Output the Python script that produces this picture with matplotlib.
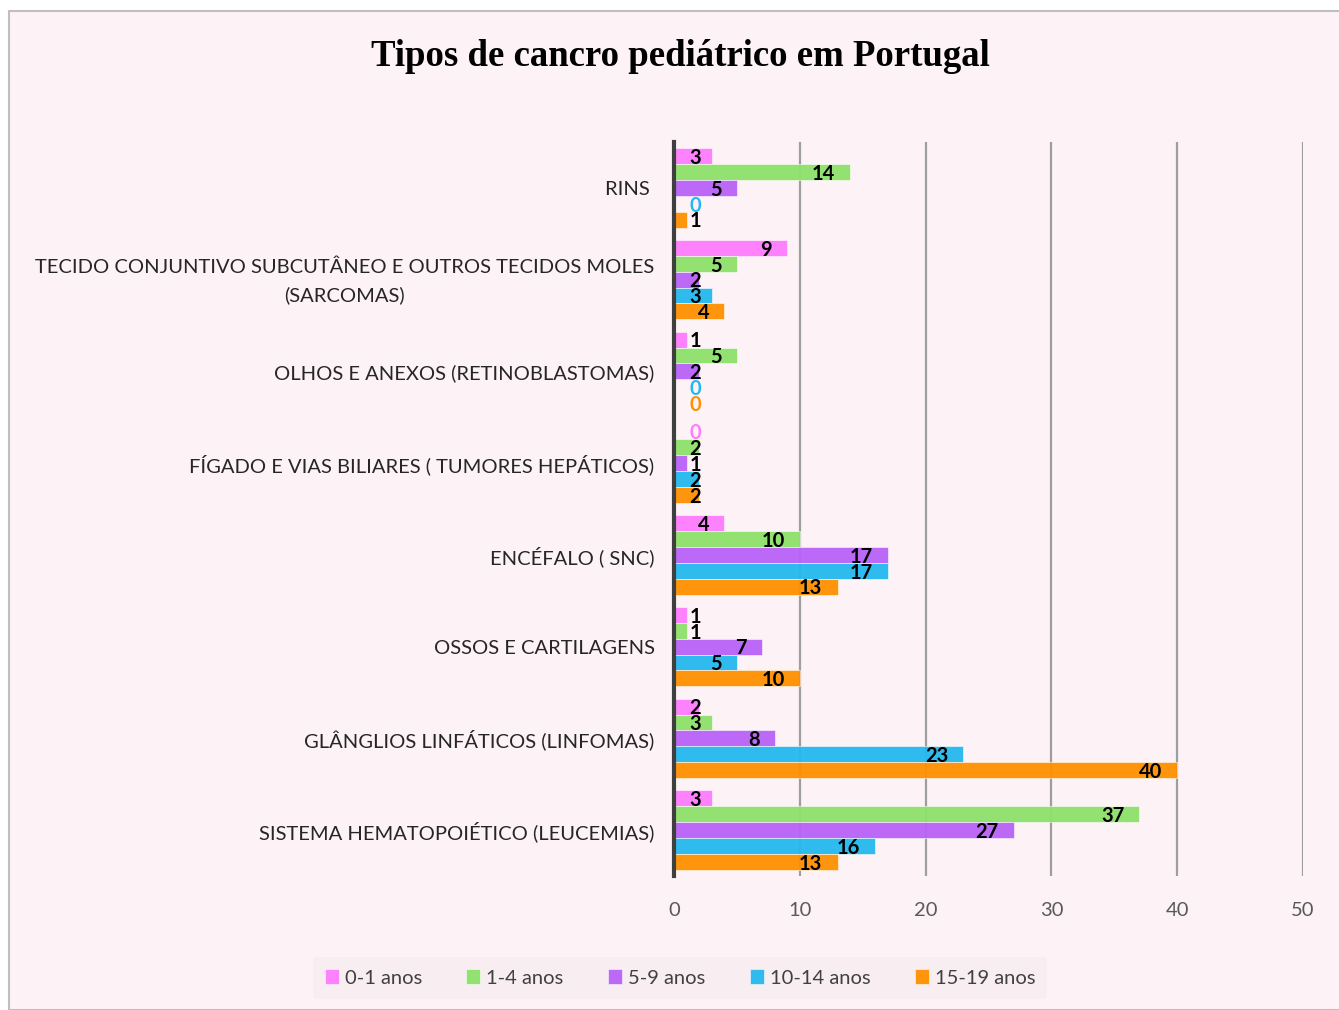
import matplotlib
matplotlib.use("Agg")
import matplotlib.pyplot as plt
from matplotlib.patches import Rectangle
from matplotlib.transforms import ScaledTranslation
import numpy as np

categories = [
    "RINS ",
    "TECIDO CONJUNTIVO SUBCUTÂNEO E OUTROS TECIDOS MOLES\n(SARCOMAS)",
    "OLHOS E ANEXOS (RETINOBLASTOMAS)",
    "FÍGADO E VIAS BILIARES ( TUMORES HEPÁTICOS)",
    "ENCÉFALO ( SNC)",
    "OSSOS E CARTILAGENS",
    "GLÂNGLIOS LINFÁTICOS (LINFOMAS)",
    "SISTEMA HEMATOPOIÉTICO (LEUCEMIAS)",
]
series_names = ["0-1 anos", "1-4 anos", "5-9 anos", "10-14 anos", "15-19 anos"]
age_0_1 = [3, 9, 1, 0, 4, 1, 2, 3]
age_1_4 = [14, 5, 5, 2, 10, 1, 3, 37]
age_5_9 = [5, 2, 2, 1, 17, 7, 8, 27]
age_10_14 = [0, 3, 0, 2, 17, 5, 23, 16]
age_15_19 = [1, 4, 0, 2, 13, 10, 40, 13]
series = [age_0_1, age_1_4, age_5_9, age_10_14, age_15_19]
colors = ["#FF7BFF", "#8DE26A", "#B862F7", "#25B8EE", "#FF9000"]
xticks = [0, 10, 20, 30, 40, 50]

W, H = 1339, 1010
fig = plt.figure(figsize=(W / 100, H / 100), dpi=100)
fig.patch.set_facecolor("white")
bg = "#FDF3F6"
frame = Rectangle((9 / W, 0), 1.2, 1 - 11 / H, transform=fig.transFigure,
                  facecolor=bg, edgecolor="#BFBFBF", linewidth=1.5, zorder=-10)
fig.patches.append(frame)

ax = fig.add_axes([674 / W, 1 - 876 / H, (1303 - 674) / W, (876 - 142) / H])
ax.patch.set_visible(False)

n = len(categories)
ypos = np.arange(n)
bh = 0.173
for i, (vals, c, name) in enumerate(zip(series, colors, series_names)):
    yy = ypos + (i - 2) * bh
    ax.barh(yy, vals, height=bh, color=c, edgecolor="white", linewidth=0.4,
            alpha=0.95, zorder=2, label=name)
    for y, v in zip(yy, vals):
        xr = max(v - 1.2, 2.15)
        tc = c if v == 0 else "black"
        ax.text(xr, y + 0.02, str(v), ha="right", va="center", fontsize=14.5,
                fontweight="bold", color=tc, family="Lato", zorder=4)

ax.set_ylim(n - 0.5, -0.5)
ax.set_xlim(0, 50)
ax.set_xticks(xticks)
ax.set_xticklabels([str(t) for t in xticks], fontsize=14.5, color="#595959", family="Lato")
ax.set_yticks(ypos)
ax.set_yticklabels(categories, fontsize=14.5, color="#262626", family="Lato",
                   multialignment="center", linespacing=1.7)
ax.tick_params(axis="both", length=0)
ax.tick_params(axis="y", pad=14)
ax.tick_params(axis="x", pad=19)
lab = ax.get_yticklabels()[1]
lab.set_transform(lab.get_transform() + ScaledTranslation(0, 0.05, fig.dpi_scale_trans))
for x in xticks[1:]:
    ax.axvline(x, color="#9E9E9E", linewidth=1.6, zorder=1)
for s in ["top", "right", "bottom"]:
    ax.spines[s].set_visible(False)
ax.spines["left"].set_color("#3F3F3F")
ax.spines["left"].set_linewidth(3)
ax.spines["left"].set_zorder(5)

fig.text(680 / W, 1 - 57 / H, "Tipos de cancro pediátrico em Portugal", ha="center",
         va="center", fontsize=26.5, fontweight="bold", family="Liberation Serif", color="black")

leg = fig.legend(loc="center", bbox_to_anchor=(680 / W, 1 - 978 / H), ncol=5,
                 frameon=True, prop={"family": "Lato", "size": 14.5},
                 handlelength=0.7, handleheight=0.7, handletextpad=0.3,
                 columnspacing=2.2, borderpad=0.6)
leg.get_frame().set_facecolor("#F7EDF0")
leg.get_frame().set_edgecolor("none")
for t in leg.get_texts():
    t.set_color("#404040")

fig.savefig("out.png", dpi=100, facecolor=fig.get_facecolor())
